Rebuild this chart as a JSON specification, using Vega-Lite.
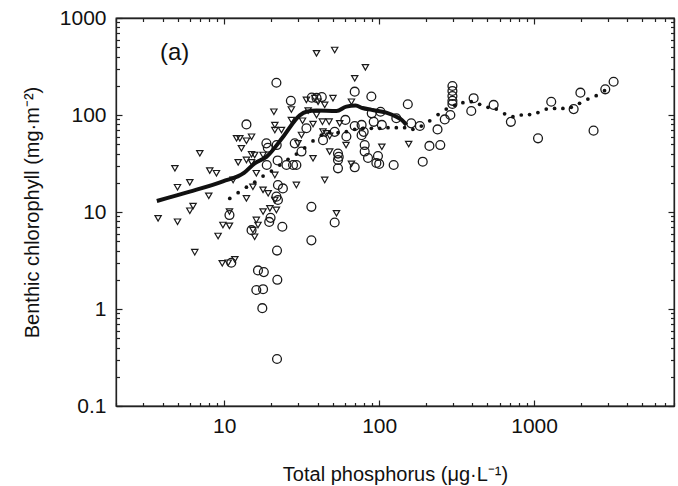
{
  "$schema": "https://vega.github.io/schema/vega-lite/v6.json",
  "width": 558,
  "height": 388,
  "autosize": {"type": "none"},
  "padding": {"left": 116, "top": 18, "right": 4, "bottom": 80},
  "background": "white",
  "config": {
    "view": {"stroke": "#222", "strokeWidth": 1.3},
    "font": "Liberation Sans",
    "axis": {"grid": false, "domainColor": "#222", "domainWidth": 1.3, "tickColor": "#222", "tickWidth": 1.2, "labelColor": "#111", "titleColor": "#111", "labelFont": "Liberation Sans", "titleFont": "Liberation Sans", "labelFontSize": 21, "titleFontSize": 20, "titleFontWeight": "normal", "labelFlush": false, "labelOverlap": false}
  },
  "datasets": {
    "circles": [
      {"tp": 21.7, "chl": 215}, {"tp": 13.9, "chl": 80}, {"tp": 26.9, "chl": 140}, {"tp": 36.7, "chl": 151}, {"tp": 39.4, "chl": 150}, {"tp": 42.6, "chl": 153},
      {"tp": 69.5, "chl": 174}, {"tp": 89, "chl": 155}, {"tp": 33.9, "chl": 73}, {"tp": 28.5, "chl": 51}, {"tp": 31.5, "chl": 42}, {"tp": 18.7, "chl": 51},
      {"tp": 19.1, "chl": 46}, {"tp": 21.8, "chl": 49}, {"tp": 22.1, "chl": 34}, {"tp": 18.8, "chl": 30.5}, {"tp": 25.2, "chl": 30.5}, {"tp": 27.8, "chl": 30.5},
      {"tp": 29.2, "chl": 30.5}, {"tp": 22.2, "chl": 19}, {"tp": 23.9, "chl": 17.5}, {"tp": 21.7, "chl": 14.4}, {"tp": 22.2, "chl": 13.3}, {"tp": 19.9, "chl": 8.7},
      {"tp": 19.5, "chl": 7.9}, {"tp": 10.8, "chl": 9.3}, {"tp": 23.7, "chl": 7.05}, {"tp": 36.5, "chl": 11.3}, {"tp": 51.6, "chl": 7.8}, {"tp": 15, "chl": 6.5},
      {"tp": 36.5, "chl": 5.1}, {"tp": 11.1, "chl": 3.0}, {"tp": 16.5, "chl": 2.5}, {"tp": 18, "chl": 2.4}, {"tp": 21.9, "chl": 4.0}, {"tp": 22, "chl": 2.0},
      {"tp": 16.1, "chl": 1.57}, {"tp": 17.8, "chl": 1.6}, {"tp": 17.6, "chl": 1.02}, {"tp": 21.9, "chl": 0.305}, {"tp": 43.4, "chl": 55}, {"tp": 80.6, "chl": 49},
      {"tp": 80.6, "chl": 42}, {"tp": 84.7, "chl": 36}, {"tp": 95.9, "chl": 32}, {"tp": 54.2, "chl": 40}, {"tp": 54.2, "chl": 34.4}, {"tp": 54.2, "chl": 28.2},
      {"tp": 69.5, "chl": 28.9}, {"tp": 98.2, "chl": 37.8}, {"tp": 100, "chl": 31.3}, {"tp": 124, "chl": 30.5}, {"tp": 153, "chl": 129}, {"tp": 297, "chl": 199},
      {"tp": 297, "chl": 177}, {"tp": 297, "chl": 157}, {"tp": 297, "chl": 140}, {"tp": 297, "chl": 130}, {"tp": 407, "chl": 149}, {"tp": 393, "chl": 110},
      {"tp": 548, "chl": 127}, {"tp": 708, "chl": 85}, {"tp": 1290, "chl": 137}, {"tp": 1990, "chl": 170}, {"tp": 1800, "chl": 115}, {"tp": 1060, "chl": 57.5},
      {"tp": 2420, "chl": 69}, {"tp": 2880, "chl": 184}, {"tp": 3260, "chl": 220}, {"tp": 60.5, "chl": 89}, {"tp": 77, "chl": 79}, {"tp": 79.4, "chl": 67},
      {"tp": 69.5, "chl": 77}, {"tp": 89.5, "chl": 104}, {"tp": 102, "chl": 108}, {"tp": 92.2, "chl": 85}, {"tp": 104, "chl": 79}, {"tp": 77, "chl": 62},
      {"tp": 161, "chl": 82}, {"tp": 183, "chl": 77}, {"tp": 191, "chl": 33}, {"tp": 211, "chl": 48}, {"tp": 248, "chl": 49}, {"tp": 238, "chl": 71},
      {"tp": 265, "chl": 90}, {"tp": 288, "chl": 100}, {"tp": 54.8, "chl": 37}, {"tp": 51.6, "chl": 67}, {"tp": 61.4, "chl": 60}, {"tp": 129, "chl": 92.5}
    ],
    "triangles": [
      {"tp": 39.4, "chl": 432}, {"tp": 51.6, "chl": 468}, {"tp": 81.5, "chl": 310}, {"tp": 69.5, "chl": 239}, {"tp": 66.2, "chl": 137}, {"tp": 61.1, "chl": 49},
      {"tp": 104, "chl": 47}, {"tp": 66.2, "chl": 31.3}, {"tp": 155, "chl": 50.2}, {"tp": 3.74, "chl": 8.6}, {"tp": 4.99, "chl": 7.94}, {"tp": 4.8, "chl": 28.2},
      {"tp": 4.99, "chl": 18}, {"tp": 5.99, "chl": 20.2}, {"tp": 6.95, "chl": 40.3}, {"tp": 8.06, "chl": 26.7}, {"tp": 8.9, "chl": 25.1}, {"tp": 7.94, "chl": 14.7},
      {"tp": 6.29, "chl": 11.5}, {"tp": 5.99, "chl": 10.3}, {"tp": 10.8, "chl": 10.1}, {"tp": 9.8, "chl": 7.35}, {"tp": 10.8, "chl": 7.2}, {"tp": 9.12, "chl": 5.66},
      {"tp": 6.45, "chl": 3.85}, {"tp": 9.7, "chl": 2.96}, {"tp": 10.6, "chl": 3.0}, {"tp": 11.7, "chl": 3.25}, {"tp": 12.0, "chl": 57.5}, {"tp": 12.6, "chl": 57.5},
      {"tp": 13.9, "chl": 54.3}, {"tp": 12.9, "chl": 45.4}, {"tp": 12.3, "chl": 32.5}, {"tp": 13.9, "chl": 34.4}, {"tp": 15.0, "chl": 32.5}, {"tp": 15.7, "chl": 38.7},
      {"tp": 15.0, "chl": 39.4}, {"tp": 16.1, "chl": 25.1}, {"tp": 13.9, "chl": 13.8}, {"tp": 15.3, "chl": 18.2}, {"tp": 15.0, "chl": 59.7}, {"tp": 21.2, "chl": 70},
      {"tp": 17.8, "chl": 38.7}, {"tp": 21.2, "chl": 24.1}, {"tp": 29.2, "chl": 19.0}, {"tp": 37.4, "chl": 35.8}, {"tp": 44.5, "chl": 21.4}, {"tp": 47.9, "chl": 41.9},
      {"tp": 53, "chl": 9.7}, {"tp": 17.8, "chl": 16.9}, {"tp": 19.2, "chl": 15.6}, {"tp": 21.2, "chl": 13.3}, {"tp": 17.8, "chl": 10.1}, {"tp": 19.7, "chl": 10.9},
      {"tp": 21.7, "chl": 10.5}, {"tp": 16.1, "chl": 8.28}, {"tp": 16.5, "chl": 7.35}, {"tp": 45.6, "chl": 64.7}, {"tp": 47.9, "chl": 60.8}, {"tp": 29.9, "chl": 51},
      {"tp": 15.3, "chl": 6.52}, {"tp": 15.7, "chl": 5.56}, {"tp": 20.9, "chl": 108}, {"tp": 27.1, "chl": 114}, {"tp": 33.9, "chl": 143}, {"tp": 38.4, "chl": 149},
      {"tp": 40.3, "chl": 137}, {"tp": 44.5, "chl": 127}, {"tp": 50.3, "chl": 149}, {"tp": 27.1, "chl": 88.7}, {"tp": 32, "chl": 87.3}, {"tp": 34.8, "chl": 111},
      {"tp": 39.4, "chl": 100}, {"tp": 43, "chl": 85.3}, {"tp": 47.5, "chl": 85.3}, {"tp": 55.6, "chl": 82}, {"tp": 21.2, "chl": 78.8}, {"tp": 23.4, "chl": 70},
      {"tp": 31.5, "chl": 62.2}, {"tp": 43.4, "chl": 67.3}, {"tp": 11.4, "chl": 21.4}, {"tp": 37.4, "chl": 80.7}
    ],
    "dots": [
      {"tp": 10.85, "chl": 13.8}, {"tp": 12.29, "chl": 15.8}, {"tp": 13.9, "chl": 18}, {"tp": 15.73, "chl": 20.3}, {"tp": 17.8, "chl": 23.5}, {"tp": 20.15, "chl": 26.4},
      {"tp": 22.8, "chl": 30.5}, {"tp": 25.8, "chl": 34.9}, {"tp": 29.2, "chl": 39.6}, {"tp": 33.05, "chl": 45.7}, {"tp": 37.4, "chl": 54}, {"tp": 42.35, "chl": 62},
      {"tp": 47.9, "chl": 65.8}, {"tp": 54.25, "chl": 65.8}, {"tp": 61.4, "chl": 67.2}, {"tp": 69.5, "chl": 71.2}, {"tp": 78.6, "chl": 72.9}, {"tp": 89.0, "chl": 72.9},
      {"tp": 100.7, "chl": 72.9}, {"tp": 114, "chl": 74}, {"tp": 129, "chl": 74}, {"tp": 146, "chl": 74}, {"tp": 165, "chl": 71.2}, {"tp": 187, "chl": 77},
      {"tp": 212, "chl": 87}, {"tp": 240, "chl": 101}, {"tp": 271, "chl": 115}, {"tp": 307, "chl": 126}, {"tp": 347, "chl": 134}, {"tp": 393, "chl": 137},
      {"tp": 445, "chl": 129}, {"tp": 504, "chl": 120}, {"tp": 570, "chl": 115}, {"tp": 645, "chl": 103}, {"tp": 730, "chl": 96}, {"tp": 826, "chl": 100},
      {"tp": 935, "chl": 101}, {"tp": 1058, "chl": 106}, {"tp": 1198, "chl": 115}, {"tp": 1356, "chl": 117}, {"tp": 1534, "chl": 117}, {"tp": 1736, "chl": 120},
      {"tp": 1965, "chl": 132}, {"tp": 2224, "chl": 146}, {"tp": 2517, "chl": 158}, {"tp": 2849, "chl": 178}
    ],
    "curve": [
      {"tp": 3.67, "chl": 13}, {"tp": 5.99, "chl": 16.2}, {"tp": 9.8, "chl": 20.7}, {"tp": 13.4, "chl": 25.3}, {"tp": 15.7, "chl": 31.8}, {"tp": 18.7, "chl": 37},
      {"tp": 24, "chl": 59.7}, {"tp": 30.7, "chl": 99}, {"tp": 33.9, "chl": 108}, {"tp": 39.4, "chl": 111}, {"tp": 53, "chl": 110}, {"tp": 61.4, "chl": 122},
      {"tp": 70.5, "chl": 125}, {"tp": 78, "chl": 118}, {"tp": 89.4, "chl": 113}, {"tp": 111, "chl": 106}, {"tp": 129, "chl": 96}, {"tp": 140, "chl": 89},
      {"tp": 150, "chl": 79}
    ],
    "label": [{"tp": 3.84, "chl": 435, "text": "(a)"}]
  },
  "layer": [
    {
      "data": {"name": "circles"},
      "mark": {"type": "point", "shape": "circle", "filled": false, "size": 78, "stroke": "#1a1a1a", "strokeWidth": 1.3, "opacity": 1},
      "encoding": {
        "x": {"field": "tp", "type": "quantitative", "scale": {"type": "log", "domain": [2, 8000], "nice": false},
          "axis": {"orient": "bottom", "title": "Total phosphorus (μg·L⁻¹)", "values": [2,3,4,5,6,7,8,9,10,20,30,40,50,60,70,80,90,100,200,300,400,500,600,700,800,900,1000,2000,3000,4000,5000,6000,7000,8000],
            "labelExpr": "abs(log(datum.value)/LN10 - round(log(datum.value)/LN10)) < 0.001 ? format(datum.value, '~g') : ''",
            "tickSize": {"condition": {"test": "abs(log(datum.value)/LN10 - round(log(datum.value)/LN10)) < 0.001", "value": -6}, "value": -3.5},
            "labelPadding": 15, "titlePadding": 26}},
        "y": {"field": "chl", "type": "quantitative", "scale": {"type": "log", "domain": [0.1, 1000], "nice": false},
          "axis": {"orient": "left", "title": "Benthic chlorophyll (mg·m⁻²)", "values": [0.1,0.2,0.3,0.4,0.5,0.6,0.7,0.8,0.9,1,2,3,4,5,6,7,8,9,10,20,30,40,50,60,70,80,90,100,200,300,400,500,600,700,800,900,1000],
            "labelExpr": "abs(log(datum.value)/LN10 - round(log(datum.value)/LN10)) < 0.001 ? format(datum.value, '~g') : ''",
            "tickSize": {"condition": {"test": "abs(log(datum.value)/LN10 - round(log(datum.value)/LN10)) < 0.001", "value": -6}, "value": -3.5},
            "labelPadding": 16, "titlePadding": 17}}
      }
    },
    {
      "data": {"name": "triangles"},
      "mark": {"type": "point", "shape": "triangle-down", "filled": false, "size": 40, "stroke": "#1a1a1a", "strokeWidth": 1.2, "opacity": 1},
      "encoding": {
        "x": {"field": "tp", "type": "quantitative", "axis": {"orient": "top", "labels": false, "title": null, "values": [2,3,4,5,6,7,8,9,10,20,30,40,50,60,70,80,90,100,200,300,400,500,600,700,800,900,1000,2000,3000,4000,5000,6000,7000,8000],
            "tickSize": {"condition": {"test": "abs(log(datum.value)/LN10 - round(log(datum.value)/LN10)) < 0.001", "value": -6}, "value": -3.5}}},
        "y": {"field": "chl", "type": "quantitative", "axis": {"orient": "right", "labels": false, "title": null, "values": [0.1,0.2,0.3,0.4,0.5,0.6,0.7,0.8,0.9,1,2,3,4,5,6,7,8,9,10,20,30,40,50,60,70,80,90,100,200,300,400,500,600,700,800,900,1000],
            "tickSize": {"condition": {"test": "abs(log(datum.value)/LN10 - round(log(datum.value)/LN10)) < 0.001", "value": -6}, "value": -3.5}}}
      }
    },
    {
      "data": {"name": "dots"},
      "mark": {"type": "point", "shape": "circle", "filled": true, "size": 14, "color": "#111", "opacity": 1},
      "encoding": {
        "x": {"field": "tp", "type": "quantitative", "axis": null},
        "y": {"field": "chl", "type": "quantitative", "axis": null}
      }
    },
    {
      "data": {"name": "curve"},
      "mark": {"type": "line", "color": "#111", "strokeWidth": 4, "interpolate": "monotone"},
      "encoding": {
        "x": {"field": "tp", "type": "quantitative", "axis": null},
        "y": {"field": "chl", "type": "quantitative", "axis": null}
      }
    },
    {
      "data": {"name": "label"},
      "mark": {"type": "text", "align": "left", "baseline": "middle", "fontSize": 24, "font": "Liberation Sans", "color": "#111"},
      "encoding": {
        "x": {"field": "tp", "type": "quantitative", "axis": null},
        "y": {"field": "chl", "type": "quantitative", "axis": null},
        "text": {"field": "text"}
      }
    }
  ],
  "resolve": {"axis": {"x": "independent", "y": "independent"}}
}
